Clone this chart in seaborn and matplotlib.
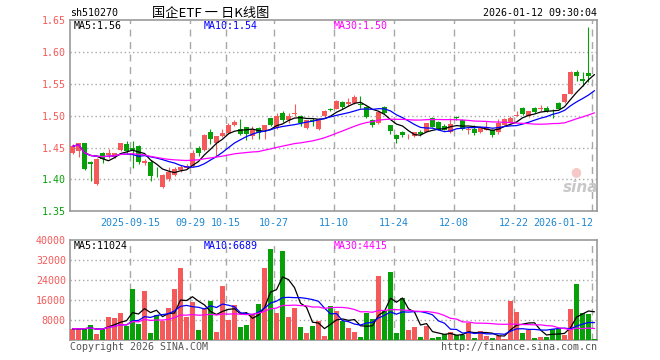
import matplotlib
matplotlib.use("Agg")
import matplotlib.pyplot as plt
import numpy as np
import pandas as pd
import seaborn as sns

sns.set_theme(style="white")
plt.rcParams["font.family"] = ["DejaVu Sans Mono", "Noto Sans CJK SC"]

# daily candles, 2025-09-01 .. 2026-01-12 (88 trading days)
opens = [1.442, 1.444, 1.457, 1.428, 1.393, 1.441, 1.438, 1.436, 1.446, 1.455,
         1.450, 1.453, 1.426, 1.428, 1.414, 1.388, 1.400, 1.407, 1.415, 1.418,
         1.421, 1.450, 1.446, 1.474, 1.457, 1.468, 1.473, 1.485, 1.479, 1.482,
         1.468, 1.481, 1.478, 1.496, 1.481, 1.504, 1.493, 1.503, 1.500, 1.481,
         1.494, 1.479, 1.499, 1.510, 1.511, 1.522, 1.519, 1.520, 1.519, 1.514,
         1.494, 1.488, 1.514, 1.485, 1.470, 1.474, 1.468, 1.468, 1.474, 1.475,
         1.496, 1.491, 1.484, 1.475, 1.498, 1.494, 1.477, 1.479, 1.474, 1.478,
         1.478, 1.474, 1.486, 1.489, 1.500, 1.513, 1.499, 1.513, 1.511, 1.512,
         1.508, 1.520, 1.521, 1.535, 1.569, 1.558, 1.567, 1.575]
highs = [1.455, 1.457, 1.458, 1.429, 1.433, 1.443, 1.448, 1.442, 1.458, 1.461,
         1.460, 1.454, 1.432, 1.430, 1.420, 1.409, 1.419, 1.420, 1.423, 1.424,
         1.447, 1.452, 1.471, 1.479, 1.469, 1.480, 1.488, 1.494, 1.495, 1.483,
         1.484, 1.482, 1.486, 1.497, 1.504, 1.507, 1.505, 1.518, 1.502, 1.494,
         1.497, 1.496, 1.509, 1.513, 1.525, 1.524, 1.528, 1.532, 1.531, 1.516,
         1.495, 1.507, 1.515, 1.486, 1.471, 1.476, 1.472, 1.475, 1.477, 1.489,
         1.498, 1.492, 1.487, 1.496, 1.500, 1.495, 1.483, 1.485, 1.482, 1.492,
         1.479, 1.495, 1.496, 1.500, 1.508, 1.514, 1.508, 1.514, 1.517, 1.515,
         1.510, 1.521, 1.535, 1.571, 1.572, 1.569, 1.640, 1.575]
lows = [1.440, 1.435, 1.415, 1.398, 1.392, 1.426, 1.434, 1.433, 1.444, 1.440,
        1.418, 1.425, 1.422, 1.398, 1.404, 1.386, 1.398, 1.405, 1.412, 1.416,
        1.420, 1.437, 1.445, 1.455, 1.437, 1.467, 1.472, 1.484, 1.470, 1.462,
        1.463, 1.464, 1.464, 1.484, 1.480, 1.491, 1.489, 1.500, 1.484, 1.479,
        1.484, 1.478, 1.498, 1.508, 1.510, 1.511, 1.516, 1.519, 1.512, 1.496,
        1.483, 1.487, 1.503, 1.471, 1.458, 1.466, 1.464, 1.467, 1.468, 1.474,
        1.482, 1.477, 1.477, 1.473, 1.494, 1.478, 1.472, 1.470, 1.473, 1.477,
        1.467, 1.472, 1.485, 1.488, 1.499, 1.502, 1.498, 1.505, 1.507, 1.506,
        1.496, 1.510, 1.520, 1.534, 1.555, 1.547, 1.553, 1.575]
closes = [1.452, 1.457, 1.417, 1.425, 1.432, 1.432, 1.441, 1.441, 1.457, 1.445,
          1.446, 1.427, 1.429, 1.406, 1.413, 1.407, 1.411, 1.417, 1.420, 1.421,
          1.441, 1.442, 1.470, 1.463, 1.468, 1.473, 1.485, 1.490, 1.471, 1.471,
          1.479, 1.473, 1.485, 1.485, 1.500, 1.493, 1.500, 1.504, 1.489, 1.493,
          1.492, 1.495, 1.508, 1.509, 1.524, 1.514, 1.521, 1.530, 1.517, 1.498,
          1.485, 1.506, 1.505, 1.476, 1.463, 1.470, 1.469, 1.474, 1.472, 1.488,
          1.483, 1.478, 1.478, 1.487, 1.497, 1.479, 1.479, 1.473, 1.481, 1.483,
          1.470, 1.488, 1.495, 1.497, 1.501, 1.503, 1.507, 1.506, 1.512, 1.507,
          1.507, 1.511, 1.534, 1.569, 1.562, 1.555, 1.563, 1.575]
volumes = [4500, 4500, 4500, 5900, 2400, 4300, 9200, 8800, 10800, 5500,
           20400, 6500, 19600, 2800, 10200, 7700, 12800, 20400, 28800, 9200,
           15300, 4000, 12800, 15700, 3200, 21600, 8000, 14000, 5200, 6000,
           10200, 14400, 28800, 36400, 10800, 35600, 9200, 12800, 5200, 2800,
           5600, 7600, 1600, 13600, 11700, 7600, 4800, 3200, 1200, 10800,
           8400, 25600, 11600, 27200, 2800, 16800, 4000, 5200, 1200, 5600,
           800, 1200, 2400, 3200, 2000, 2000, 6800, 800, 3600, 1600,
           800, 1600, 400, 15600, 11200, 2800, 4000, 800, 1200, 1200,
           4400, 4400, 2000, 12400, 22400, 10800, 10400, 400]
# is the candle red (close above open) or green
rising = [1, 1, 0, 0, 1, 0, 1, 1, 1, 0, 0, 0, 1, 0, 0, 1, 1, 1, 1, 1,
          1, 0, 1, 0, 1, 1, 1, 1, 0, 0, 1, 0, 1, 0, 1, 0, 1, 1, 0, 1,
          0, 1, 1, 0, 1, 0, 1, 1, 0, 0, 0, 1, 0, 0, 0, 0, 1, 1, 0, 1,
          0, 0, 0, 1, 0, 0, 1, 0, 1, 1, 0, 1, 1, 1, 1, 0, 1, 0, 1, 0,
          0, 0, 1, 1, 0, 0, 0, 0]

date_ticks = [10, 20, 26, 34, 44, 54, 64, 74, 87]
date_labels = ["2025-09-15", "09-29", "10-15", "10-27", "11-10", "11-24",
               "12-08", "12-22", "2026-01-12"]
price_ticks = [1.35, 1.40, 1.45, 1.50, 1.55, 1.60, 1.65]
price_labels = ["1.35", "1.40", "1.45", "1.50", "1.55", "1.60", "1.65"]
vol_ticks = [8000, 16000, 24000, 32000, 40000]
vol_labels = ["8000", "16000", "24000", "32000", "40000"]
price_ma_text = ["MA5:1.56", "MA10:1.54", "MA30:1.50"]
vol_ma_text = ["MA5:11024", "MA10:6689", "MA30:4415"]

RED = "#f55a5a"
GREEN = "#08a008"
MA_COLORS = ["#000000", "#0000ff", "#ff00ff"]
GRID = "#a8a8a8"
W, H = 660, 360

idx = np.arange(len(closes))
colors = [RED if r else GREEN for r in rising]
o = np.array(opens)
c = np.array(closes)
close_s = pd.Series(closes)
vol_s = pd.Series(volumes, dtype=float)

fig = plt.figure(figsize=(6.6, 3.6), dpi=100)
ax = fig.add_axes([70 / W, 1 - 211.3 / H, 527 / W, 191 / H])
axv = fig.add_axes([70 / W, 1 - 340 / H, 527 / W, 100 / H])

# candles
ax.vlines(idx, lows, highs, colors=colors, linewidth=0.8, zorder=3)
body = np.maximum(np.abs(c - o), 0.0008)
ax.bar(idx, body, bottom=np.minimum(o, c), width=0.83, color=colors,
       linewidth=0, zorder=4)
for n, col in zip([5, 10, 30], MA_COLORS):
    sns.lineplot(x=idx, y=close_s.rolling(n, min_periods=1).mean(), ax=ax,
                 color=col, linewidth=0.9, zorder=5)

# volume
vol_df = pd.DataFrame({"day": idx, "vol": volumes,
                       "dir": ["up" if r else "down" for r in rising]})
sns.barplot(data=vol_df, x="day", y="vol", hue="dir",
            palette={"up": RED, "down": GREEN}, dodge=False, width=0.83,
            saturation=1, errorbar=None, legend=False, linewidth=0,
            ax=axv, zorder=3)
for n, col in zip([5, 10, 30], MA_COLORS):
    sns.lineplot(x=idx, y=vol_s.rolling(n, min_periods=1).mean(), ax=axv,
                 color=col, linewidth=0.9, zorder=5)

x_lo, x_hi = -2.5 / 6, 87 + 2.5 / 6
for a in (ax, axv):
    a.set_xlim(x_lo, x_hi)
    a.set_xlabel("")
    a.set_ylabel("")
    a.set_xticks([])
    for t in date_ticks:
        a.axvline(t - 2.5 / 6, color=GRID, linewidth=1.0,
                  dashes=(5, 4), zorder=1)
    for s in a.spines.values():
        s.set_color("#999999")
        s.set_linewidth(1.2)
    a.tick_params(axis="y", length=0, pad=3, labelsize=7.2)

ax.set_ylim(1.35, 1.65)
ax.set_yticks(price_ticks)
ax.set_yticklabels(price_labels)
for lab, v in zip(ax.get_yticklabels(), price_ticks):
    lab.set_color(RED if v >= 1.45 else GREEN)
for v in price_ticks[1:-1]:
    ax.axhline(v, color=GRID, linewidth=1.0, dashes=(1, 2), zorder=1)

axv.set_ylim(0, 40000)
axv.set_yticks(vol_ticks)
axv.set_yticklabels(vol_labels)
for lab in axv.get_yticklabels():
    lab.set_color(RED)
for v in vol_ticks[:-1]:
    axv.axhline(v, color=GRID, linewidth=1.0, dashes=(1, 2), zorder=1)

# date labels under price panel
for t, lab in zip(date_ticks, date_labels):
    xpos = t - 2.5 / 6
    ha = "right" if lab == date_labels[-1] else "center"
    ax.text(xpos + (0.2 if ha == "right" else 0), -0.035, lab,
            transform=ax.get_xaxis_transform(), ha=ha, va="top",
            fontsize=7.2, color="#1e88d0")

# MA legends
for txt, col, xp in zip(price_ma_text, MA_COLORS, [74, 204, 334]):
    fig.text(xp / W, 1 - 26 / H, txt, color=col, fontsize=7.2, va="center")
for txt, col, xp in zip(vol_ma_text, MA_COLORS, [74, 204, 334]):
    fig.text(xp / W, 1 - 246 / H, txt, color=col, fontsize=7.2, va="center")

# header and footer
fig.text(70 / W, 1 - 13 / H, "sh510270", fontsize=7.2, va="center", color="#000000")
fig.text(211 / W, 1 - 13 / H, "国企ETF 一 日K线图", fontsize=9.5, va="center",
         ha="center", family=["Noto Sans CJK SC", "DejaVu Sans"], color="#000000")
fig.text(597 / W, 1 - 13 / H, "2026-01-12 09:30:04", fontsize=7.2, va="center",
         ha="right", color="#000000")
fig.text(70 / W, 1 - 347 / H, "Copyright 2026 SINA.COM", fontsize=7.2,
         va="center", color="#555555")
fig.text(597 / W, 1 - 347 / H, "http://finance.sina.com.cn", fontsize=7.2,
         va="center", ha="right", color="#555555")
# faint sina watermark
fig.text(576 / W, 1 - 172 / H, "●", fontsize=9, ha="center", va="center",
         color="#f6c8c8", family=["DejaVu Sans"])
fig.text(581 / W, 1 - 188 / H, "sina", fontsize=11, style="italic",
         fontweight="bold", ha="center", va="center", color="#c8c8c8",
         family=["DejaVu Sans"])

fig.savefig("out.png", dpi=100, facecolor="white")
